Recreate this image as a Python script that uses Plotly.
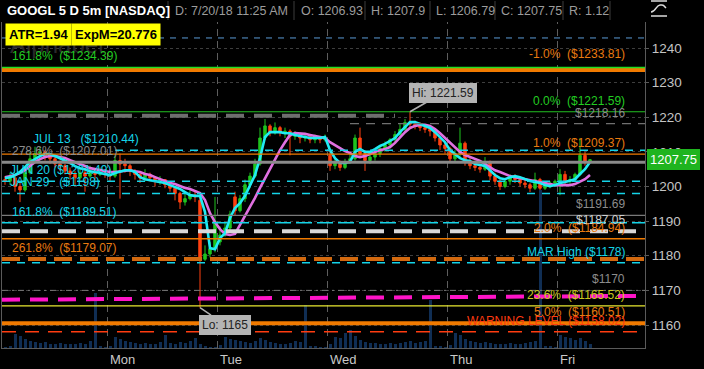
import plotly.graph_objects as go

# ---------------- data ----------------
day_names = ["Mon", "Tue", "Wed", "Thu", "Fri"]
day_first_bar = [21, 43, 65, 89, 111]

opens = [
    1202, 1201.5, 1202.5, 1200, 1199, 1204, 1208, 1209.5, 1210, 1208.5, 1208, 1206.5, 1206, 1204.5, 1203.5, 1202.5, 1204, 1203, 1204.5, 1203.5, 1204,
    1203.5, 1203, 1207.5, 1206.5, 1206, 1204.5, 1203.5, 1202.5, 1203.5, 1202.5, 1201.5, 1202, 1200.5, 1199.5, 1198, 1195.5, 1196.5, 1197.5, 1196, 1179, 1180.5, 1182,
    1184, 1186, 1188, 1197, 1193, 1196.5, 1200.5, 1203, 1206.5, 1214, 1217.5, 1215.5, 1217, 1215.5, 1216, 1214.5, 1215, 1214, 1214.5, 1213.5, 1214, 1213.5,
    1209, 1206, 1207, 1205.5, 1207, 1208, 1214, 1209.5, 1207.5, 1208.5, 1209.5, 1211, 1212, 1213.5, 1215, 1216.5, 1218.5, 1218, 1217.5, 1217, 1216.5, 1216, 1214, 1212,
    1211, 1208, 1209.5, 1212.5, 1207, 1206, 1205.5, 1205, 1207, 1203, 1201.5, 1200, 1201.5, 1202.5, 1202, 1201, 1200.5, 1199.5, 1202, 1199.5, 1200.5, 1201,
    1201, 1203.5, 1201.5, 1202, 1203.5, 1209, 1206.93,
]
highs = [
    1203, 1204, 1203, 1201, 1205, 1210, 1211.5, 1211.5, 1210.5, 1209.5, 1208.5, 1207.5, 1206.5, 1205.5, 1204.5, 1205.5, 1205, 1206, 1205, 1205.5, 1205,
    1205, 1209, 1209.5, 1208, 1206.5, 1205, 1204, 1205, 1204, 1203, 1203, 1202, 1201, 1199.5, 1198.5, 1198, 1199, 1198.5, 1197, 1183, 1184, 1197,
    1188.5, 1189.5, 1193, 1198.5, 1197.5, 1202, 1204, 1208, 1217, 1219.5, 1218, 1218.5, 1217.5, 1217, 1216.5, 1216, 1215.5, 1215.5, 1215, 1215, 1214.5, 1215,
    1210, 1208, 1207.5, 1208, 1209.5, 1215, 1217, 1210.5, 1209.5, 1210, 1212, 1213, 1214, 1216, 1218, 1219.5, 1221.59, 1219, 1218.5, 1218, 1217.5, 1216.5, 1214.5, 1213,
    1211.5, 1210.5, 1217, 1213, 1208.5, 1207.5, 1206.5, 1208.5, 1207.5, 1204, 1202, 1202, 1203.5, 1203.5, 1202.5, 1202, 1201, 1204, 1202.5, 1201, 1201.5, 1202,
    1205, 1204.5, 1203, 1204, 1214, 1210, 1207.9,
]
lows = [
    1200.5, 1200.5, 1198.5, 1195.5, 1198.5, 1203.5, 1207, 1208, 1207.5, 1206.5, 1205.5, 1204.5, 1203.5, 1202, 1200.5, 1202, 1198.5, 1202.5, 1202, 1203, 1202.5,
    1201.5, 1202.5, 1196.5, 1204, 1203, 1202, 1201, 1201.5, 1201.5, 1200, 1200.5, 1199.5, 1198.5, 1196, 1193.5, 1194.5, 1196, 1195.5, 1165, 1178.5, 1179.5, 1181,
    1183, 1185.5, 1187.5, 1191.5, 1192.5, 1195.5, 1199.5, 1202.5, 1206, 1213.5, 1214.5, 1215, 1214.5, 1214, 1209, 1213.5, 1212.5, 1213, 1212.5, 1212.5, 1212.5, 1213,
    1204.5, 1205, 1204.5, 1205, 1206.5, 1207.5, 1208.5, 1204.5, 1206.5, 1207.5, 1208.5, 1210, 1211, 1212.5, 1214, 1215.5, 1217, 1216.5, 1216, 1215.5, 1214.5, 1213, 1210.5, 1209.5,
    1207, 1207, 1208, 1206, 1205, 1204.5, 1204, 1204.5, 1201.8, 1200.5, 1199, 1199.5, 1200.5, 1201, 1200, 1199.5, 1198.4, 1199, 1198, 1199, 1199.5, 1200,
    1197.5, 1200.5, 1200.5, 1201.5, 1203, 1206, 1206.79,
]
closes = [
    1201.5, 1202.5, 1200, 1199, 1204, 1208, 1209.5, 1210, 1208.5, 1208, 1206.5, 1206, 1204.5, 1203.5, 1202.5, 1204, 1203, 1204.5, 1203.5, 1204, 1203.5,
    1203, 1207.5, 1206.5, 1206, 1204.5, 1203.5, 1202.5, 1203.5, 1202.5, 1201.5, 1202, 1200.5, 1199.5, 1198, 1195.5, 1196.5, 1197.5, 1197, 1179, 1180.5, 1182, 1190,
    1186, 1188, 1192, 1193, 1196.5, 1200.5, 1203, 1206.5, 1214, 1217.5, 1215.5, 1217, 1215.5, 1216, 1214.5, 1215, 1214, 1214.5, 1213.5, 1214, 1213.5, 1214,
    1206, 1207, 1205.5, 1207, 1208, 1214, 1209.5, 1207.5, 1208.5, 1209.5, 1211, 1212, 1213.5, 1215, 1216.5, 1218.5, 1218, 1217.5, 1217, 1216.5, 1216, 1214, 1212, 1211,
    1208, 1209.5, 1212.5, 1207, 1206, 1205.5, 1205, 1207, 1203, 1201.5, 1200, 1201.5, 1202.5, 1202, 1201, 1200.5, 1199.5, 1202, 1199.5, 1200.5, 1201, 1201.5,
    1203.5, 1201.5, 1202, 1203.5, 1209, 1207, 1207.75,
]
ma_fast = [
    1202.4, 1202.7, 1203.3, 1204.2, 1205.6, 1207.1, 1207.9, 1208.8, 1209.4, 1209.4, 1208.8, 1208.2, 1207.6, 1206.8, 1205.9, 1205.3, 1205.0, 1204.4, 1204.2, 1203.9, 1203.6,
    1203.3, 1203.9, 1204.4, 1204.7, 1204.7, 1204.2, 1202.7, 1202.1, 1201.8, 1201.6, 1201.3, 1201.0, 1200.4, 1199.9, 1199.3, 1198.4, 1197.5, 1197.3, 1197.3, 1192.6, 1182.2, 1181.9,
    1185.1, 1186.5, 1190.9, 1193.8, 1195.2, 1197.3, 1200.1, 1203.3, 1208.2, 1214.3, 1215.7, 1215.7, 1215.7, 1215.4, 1215.4, 1214.9, 1214.6, 1214.3, 1214.0, 1214.0, 1214.0, 1214.3,
    1210.5, 1208.2, 1206.8, 1206.8, 1207.1, 1210.0, 1210.8, 1210.0, 1210.0, 1210.8, 1211.7, 1212.3, 1213.1, 1214.0, 1215.7, 1217.2, 1218.6, 1218.6, 1218.0, 1217.5, 1216.9, 1215.7, 1214.3, 1212.8,
    1210.5, 1209.4, 1208.2, 1207.6, 1207.4, 1206.5, 1206.2, 1205.9, 1204.7, 1203.3, 1202.4, 1202.1, 1202.7, 1203.0, 1202.7, 1202.1, 1201.6, 1201.3, 1201.0, 1200.4, 1200.1, 1200.4,
    1201.0, 1201.3, 1201.6, 1202.1, 1203.6, 1205.0, 1207.1,
]
ma_slow = [
    1202.7, 1203.0, 1203.3, 1203.9, 1204.7, 1205.9, 1207.1, 1207.9, 1208.5, 1208.8, 1208.8, 1208.5, 1208.2, 1207.6, 1207.1, 1206.5, 1205.9, 1205.3, 1205.0, 1204.7, 1204.4,
    1204.2, 1204.2, 1204.4, 1204.7, 1204.7, 1204.4, 1204.2, 1203.6, 1203.3, 1202.7, 1202.1, 1201.6, 1201.0, 1200.7, 1200.1, 1199.6, 1199.3, 1198.7, 1198.1, 1196.1, 1192.3, 1189.7,
    1187.7, 1186.3, 1186.0, 1186.3, 1188.8, 1191.5, 1193.8, 1196.7, 1199.6, 1202.4, 1205.3, 1207.9, 1210.5, 1212.8, 1214.9, 1215.4, 1215.4, 1215.2, 1214.9, 1214.6, 1214.3, 1214.0,
    1212.8, 1212.0, 1211.1, 1210.2, 1209.7, 1208.8, 1208.5, 1208.8, 1209.4, 1210.0, 1210.5, 1210.8, 1211.4, 1212.6, 1214.3, 1215.7, 1216.9, 1217.5, 1217.8, 1217.8, 1217.5, 1216.6, 1215.4, 1214.0,
    1212.6, 1211.1, 1210.0, 1209.1, 1208.5, 1207.9, 1207.4, 1206.5, 1205.6, 1204.7, 1204.2, 1203.6, 1203.0, 1202.7, 1202.4, 1202.1, 1201.8, 1201.6, 1201.3, 1201.0, 1200.7, 1200.4,
    1200.4, 1200.4, 1200.4, 1200.7, 1201.3, 1202.1, 1203.3,
]
volume_k = [
    2, 3, 28, 24, 18, 14, 12, 10, 12, 9, 8, 10, 8, 9, 8, 10, 9, 14, 110, 4, 2,
    4, 22, 18, 14, 12, 10, 9, 10, 8, 8, 12, 26, 10, 9, 12, 10, 14, 20, 8, 3, 2, 2,
    6, 22, 18, 16, 14, 12, 10, 14, 20, 16, 12, 10, 9, 8, 10, 14, 12, 86, 4, 3, 2, 2,
    8, 22, 20, 30, 36, 24, 16, 12, 10, 10, 8, 8, 10, 9, 10, 12, 14, 10, 12, 14, 96, 4, 3, 2,
    6, 30, 26, 18, 14, 12, 10, 12, 10, 9, 8, 8, 10, 8, 9, 10, 12, 14, 316, 4, 3, 2,
    26, 22, 20, 16, 20, 14, 8,
]
price_ticks = [1160, 1170, 1180, 1190, 1200, 1210, 1220, 1230, 1240]

# study price levels
level_values = [1242.90, 1233.81, 1234.39, 1221.59, 1220.40, 1218.16, 1210.44, 1209.37, 1207.01,
                1201.49, 1198.00, 1191.69, 1189.51, 1187.05, 1184.94, 1179.07, 1178.00, 1170.00,
                1165.52, 1160.51, 1158.02]
trend_values = [1167.3, 1168.4]

left_label_values = [1234.39, 1210.44, 1207.01, 1201.49, 1198.00, 1189.51, 1179.07]
left_label_texts = ["161.8%  ($1234.39)", "JUL 13   ($1210.44)", "278.6%  ($1207.01)",
                    "JUN 20 ($1201.49)", "JAN 29   ($1198)", "161.8%  ($1189.51)", "261.8%  ($1179.07)"]
right_label_values = [1233.81, 1221.59, 1218.16, 1209.37, 1191.69, 1187.05, 1184.94, 1178.00,
                      1170.00, 1165.52, 1160.51, 1158.02]
right_label_texts = ["-1.0%  ($1233.81)", "0.0%  ($1221.59)", "$1218.16", "1.0%  ($1209.37)",
                     "$1191.69", "$1187.05", "2.0%  ($1184.94)", "MAR High ($1178)", "$1170",
                     "23.6%  ($1165.52)", "5.0%  ($1160.51)", "WARNING LEVEL ($1158.02)"]

header_texts = ["D: 7/20/18 11:25 AM", "O: 1206.93", "H: 1207.9", "L: 1206.79", "C: 1207.75", "R: 1.12"]
symbol_text = "GOOGL 5 D 5m [NASDAQ]"
atr_text = "ATR=1.94"
expm_text = "ExpM=20.776"
hi_value, lo_value = 1221.59, 1165.0
hi_bar, lo_bar = 81, 39
last_price = 1207.75

# ---------------- styling / layout ----------------
W, H = 704, 369
PL, PR, PT, PB = 2, 645, 22, 348
FONT = "Liberation Sans, Arial, sans-serif"
XR = [-0.6, 128]
YR = [1153.36, 1247.51]

def pxx(px):
    return (px - PL) / (PR - PL)

def pxy(py):
    return (PB - py) / (PB - PT)

def px_to_bar(px):
    return XR[0] + (px - PL) / (PR - PL) * (XR[1] - XR[0])

bars = list(range(len(closes)))
GREEN = "#1fc41f"
RED = "#ff4010"
CYAN = "#14d4e8"
ORANGE = "#f07a00"

fig = go.Figure()
fig.add_trace(go.Bar(x=bars, y=volume_k, yaxis="y2", marker=dict(color="#102e54", line=dict(width=0)),
                     width=0.6, hoverinfo="skip"))
fig.add_trace(go.Candlestick(
    x=bars, open=opens, high=highs, low=lows, close=closes,
    increasing=dict(line=dict(color=GREEN, width=1), fillcolor=GREEN),
    decreasing=dict(line=dict(color=RED, width=1), fillcolor=RED),
    whiskerwidth=0, hoverinfo="skip"))
fig.add_trace(go.Scatter(x=bars, y=ma_slow, mode="lines", line=dict(color="#e070e0", width=2.6), hoverinfo="skip"))
fig.add_trace(go.Scatter(x=bars, y=ma_fast, mode="lines", line=dict(color="#20ecf4", width=2.6), hoverinfo="skip"))

shapes = []
# day separators
for b in day_first_bar:
    shapes.append(dict(type="line", xref="x", yref="paper", x0=b - 0.5, x1=b - 0.5, y0=0, y1=1,
                       line=dict(color="#5e5e5e", width=1, dash="7px,5px"), layer="below"))

level_styles = [
    ("#5b9bd5", 1, "6px,6px", None, None),
    (ORANGE, 5, "solid", None, None),
    ("#22dd22", 1.5, "solid", None, None),
    ("#22c022", 1.2, "solid", None, None),
    ("#6e6e6e", 4, "18px,10px", None, 78),
    ("#707070", 1.2, "9px,7px", 69, None),
    (CYAN, 1.5, "8px,7px", 22, None),
    (ORANGE, 1.2, "solid", None, None),
    ("#8a8a8a", 3, "solid", None, None),
    (CYAN, 1.5, "8px,7px", None, None),
    (CYAN, 1.5, "8px,7px", None, None),
    ("#7a7a7a", 1.2, "solid", None, None),
    (CYAN, 1.5, "16px,5px", None, None),
    ("#d8d8d8", 4, "18px,10px", None, None),
    (ORANGE, 1.5, "solid", None, None),
    ("#d2690f", 4, "18px,8px", None, None),
    (CYAN, 1.5, "8px,7px", None, None),
    ("#777777", 1, "6px,4px,2px,4px", None, None),
    ("#e8e830", 1.2, "solid", None, None),
    (ORANGE, 4, "solid", None, None),
    ("#ff3c10", 1.5, "14px,9px", None, 126.4),
]
for v, (col, w, dash, xs, xe) in zip(level_values, level_styles):
    shapes.append(dict(type="line", xref="x", yref="y",
                       x0=XR[0] if xs is None else xs, x1=XR[1] if xe is None else xe,
                       y0=v, y1=v, line=dict(color=col, width=w, dash=dash), layer="above"))
shapes.append(dict(type="line", xref="x", yref="y", x0=XR[0], x1=XR[1] - 0.8,
                   y0=trend_values[0], y1=trend_values[1],
                   line=dict(color="#ff14c8", width=4, dash="18px,10px"), layer="above"))

# header separators
for sx in [168, 294, 365, 430, 495, 563, 610]:
    shapes.append(dict(type="line", xref="paper", yref="paper", x0=pxx(sx), x1=pxx(sx),
                       y0=pxy(1), y1=pxy(20), line=dict(color="#3c3c3c", width=1)))
# top-right icon
shapes.append(dict(type="line", xref="paper", yref="paper", x0=pxx(651), x1=pxx(667), y0=pxy(16), y1=pxy(16),
                   line=dict(color="#dddddd", width=1.5)))
shapes.append(dict(type="line", xref="paper", yref="paper", x0=pxx(651), x1=pxx(667), y0=pxy(1), y1=pxy(1),
                   line=dict(color="#dddddd", width=1.5)))
shapes.append(dict(type="path", xref="paper", yref="paper",
                   path=f"M {pxx(651)},{pxy(12)} C {pxx(656)},{pxy(12)} {pxx(656)},{pxy(5)} {pxx(660)},{pxy(5)} "
                        f"L {pxx(662)},{pxy(5)} C {pxx(664)},{pxy(5)} {pxx(665)},{pxy(7)} {pxx(666)},{pxy(8)}",
                   line=dict(color="#dddddd", width=1.5)))

ann = []
# watermark
ann.append(dict(xref="paper", yref="paper", x=pxx(8), y=pxy(44), xanchor="left", yanchor="middle",
                text="Alphabet", showarrow=False, font=dict(family=FONT, size=24, color="#2a2a2a")))
# header
ann.append(dict(xref="paper", yref="paper", x=pxx(5), y=pxy(11), xanchor="left", yanchor="middle",
                text=f"<b>{symbol_text}</b>", showarrow=False, font=dict(family=FONT, size=13, color="#ffffff")))
for t, hx in zip(header_texts, [173, 299, 369, 434, 499, 567]):
    ann.append(dict(xref="paper", yref="paper", x=pxx(hx), y=pxy(11), xanchor="left", yanchor="middle",
                    text=t, showarrow=False, font=dict(family=FONT, size=12.5, color="#9c9c9c")))
# ATR / ExpM boxes
for t, bx in zip([atr_text, expm_text], [5, 71]):
    ann.append(dict(xref="paper", yref="paper", x=pxx(bx), y=pxy(34), xanchor="left", yanchor="middle",
                    text=f"<b>{t}</b>", showarrow=False, bgcolor="#ffff00", borderpad=3,
                    font=dict(family=FONT, size=13, color="#000000")))

left_colors = ["#22cc22", CYAN, "#8c8c8c", CYAN, CYAN, CYAN, "#e87a10"]
left_x = [10, 31, 10, 8, 8, 10, 10]
for v, t, c, lx in zip(left_label_values, left_label_texts, left_colors, left_x):
    ann.append(dict(xref="x", yref="y", x=px_to_bar(lx), y=v, xanchor="left", yanchor="middle", yshift=11,
                    text=t.replace("  ", "\u00a0\u00a0").replace("   ", "\u00a0\u00a0\u00a0"),
                    showarrow=False, font=dict(family=FONT, size=12, color=c)))
right_colors = ["#e87a10", "#22cc22", "#8c8c8c", "#e87a10", "#8c8c8c", "#d0d0d0", "#e87a10", CYAN,
                "#8c8c8c", "#c8c820", "#e87a10", "#ff3a10"]
for v, t, c in zip(right_label_values, right_label_texts, right_colors):
    ann.append(dict(xref="x", yref="y", x=px_to_bar(627), y=v, xanchor="right", yanchor="middle",
                    yshift=15 if v == right_label_values[0] else 11,
                    text=t.replace("  ", "\u00a0\u00a0"), showarrow=False,
                    font=dict(family=FONT, size=12, color=c)))

# day labels
for name, b in zip(day_names, day_first_bar):
    ann.append(dict(xref="x", yref="paper", x=b - 0.5, y=pxy(359), xanchor="left", yanchor="middle",
                    text=name, showarrow=False, font=dict(family=FONT, size=13, color="#c8c8c8")))

# hi / lo callouts
ann.append(dict(xref="x", yref="y", x=hi_bar, y=hi_value, text=f"Hi: {hi_value}", showarrow=True,
                arrowhead=0, arrowwidth=1.5, arrowcolor="#b0b0b0", ax=33, ay=-19, standoff=0,
                bgcolor="#b4b4b4", bordercolor="#b4b4b4", borderpad=2,
                font=dict(family=FONT, size=12, color="#222222")))
ann.append(dict(xref="x", yref="y", x=lo_bar, y=lo_value, text=f"Lo: {lo_value:g}", showarrow=True,
                arrowhead=0, arrowwidth=1.5, arrowcolor="#b0b0b0", ax=25, ay=17, standoff=0,
                bgcolor="#b4b4b4", bordercolor="#b4b4b4", borderpad=2,
                font=dict(family=FONT, size=12, color="#222222")))
# last price tag
ann.append(dict(xref="paper", yref="y", x=pxx(647), y=last_price, xanchor="left", yanchor="middle",
                text=f"{last_price}", showarrow=False, bgcolor="#1fb41f", bordercolor="#1fb41f", borderpad=2,
                font=dict(family=FONT, size=13, color="#ffffff")))

fig.update_layout(
    width=W, height=H,
    margin=dict(l=PL, r=W - PR, t=PT, b=H - PB),
    paper_bgcolor="#000000", plot_bgcolor="#000000",
    showlegend=False, hovermode=False,
    shapes=shapes, annotations=ann,
    xaxis=dict(range=XR, showgrid=False, zeroline=False, showticklabels=False, ticks="",
               showline=True, linecolor="#5a5a5a", linewidth=1, rangeslider=dict(visible=False)),
    yaxis=dict(range=YR, side="right", tickvals=price_ticks, showgrid=True, gridcolor="#3e3e3e",
               griddash="dot", gridwidth=1, zeroline=False, showline=True, mirror=True,
               linecolor="#5a5a5a", linewidth=1, ticks="outside", ticklen=3, tickcolor="#5a5a5a",
               tickfont=dict(family=FONT, size=13.5, color="#c4c4c4")),
    yaxis2=dict(range=[0, 652], overlaying="y", visible=False),
    bargap=0,
)

fig.write_html("out.html")
